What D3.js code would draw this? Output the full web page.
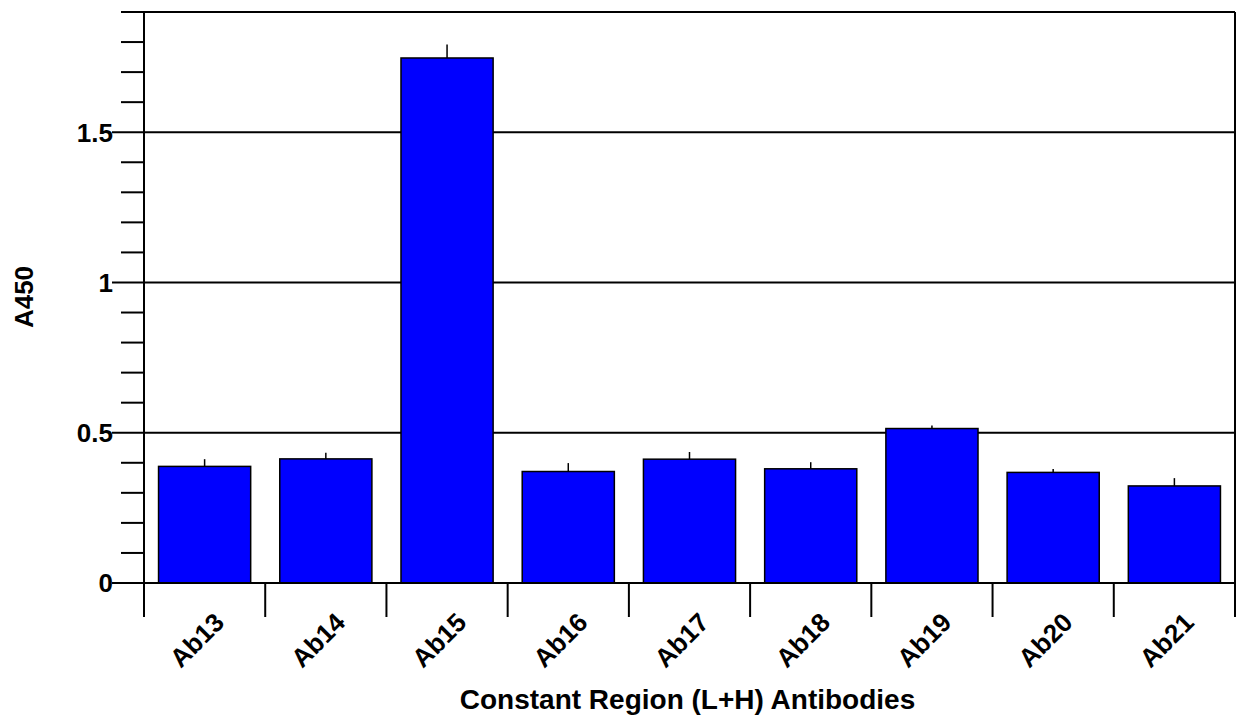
<!DOCTYPE html>
<html><head><meta charset="utf-8">
<script src="https://cdn.jsdelivr.net/npm/d3@7"></script>
<style>body{margin:0;background:#fff;} text{font-family:Arial,"Liberation Sans",sans-serif;font-weight:bold;}</style>
</head><body><svg id="c" width="1241" height="717"></svg>
<script>
const categories = ["Ab13","Ab14","Ab15","Ab16","Ab17","Ab18","Ab19","Ab20","Ab21"];
const values = [0.388,0.413,1.747,0.371,0.412,0.380,0.514,0.368,0.323];
const errors = [0.024,0.020,0.045,0.028,0.024,0.022,0.010,0.011,0.026];
const majorTicks = [0,0.5,1,1.5];
const minorTicks = [0.1,0.2,0.3,0.4,0.6,0.7,0.8,0.9,1.1,1.2,1.3,1.4,1.6,1.7,1.8,1.9];
const yMax = 1.9;
const xTitle = "Constant Region (L+H) Antibodies";
const yTitle = "A450";

(function(){
const svg = d3.select("#c");
const pL = 144, pR = 1235, pT = 12, pB = 583;
const x = d3.scaleBand().domain(categories).range([pL, pR]).paddingInner(0.24).paddingOuter(0.12);
const xb = d3.scaleBand().domain(categories).range([pL, pR]);
const y = d3.scaleLinear().domain([0, yMax]).range([pB, pT]);

svg.append("g").selectAll("line").data(majorTicks).join("line")
  .attr("x1", pL - 32).attr("x2", pR)
  .attr("y1", d => y(d)).attr("y2", d => y(d))
  .attr("stroke", "#000").attr("stroke-width", 2);
svg.append("g").selectAll("line").data(minorTicks).join("line")
  .attr("x1", pL - 23).attr("x2", pL)
  .attr("y1", d => y(d)).attr("y2", d => y(d))
  .attr("stroke", "#000").attr("stroke-width", 2);
svg.append("line").attr("x1", pL).attr("x2", pR).attr("y1", y(yMax)).attr("y2", y(yMax))
  .attr("stroke", "#000").attr("stroke-width", 2);
svg.append("line").attr("x1", pR).attr("x2", pR).attr("y1", y(yMax)).attr("y2", pB + 34)
  .attr("stroke", "#000").attr("stroke-width", 2);
svg.append("line").attr("x1", pL).attr("x2", pL).attr("y1", y(yMax)).attr("y2", pB + 34)
  .attr("stroke", "#000").attr("stroke-width", 2);
svg.append("g").selectAll("line").data(categories.slice(1)).join("line")
  .attr("x1", d => xb(d)).attr("x2", d => xb(d))
  .attr("y1", pB).attr("y2", pB + 34)
  .attr("stroke", "#000").attr("stroke-width", 2);

svg.append("g").selectAll("text").data(majorTicks).join("text")
  .attr("x", pL - 31).attr("y", d => y(d)).attr("dy", "0.36em")
  .attr("text-anchor", "end").attr("font-size", 26)
  .text(d => d3.format("")(d));

svg.append("g").selectAll("line").data(categories).join("line")
  .attr("x1", d => x(d) + x.bandwidth()/2).attr("x2", d => x(d) + x.bandwidth()/2)
  .attr("y1", (d,i) => y(values[i])).attr("y2", (d,i) => y(values[i] + errors[i]))
  .attr("stroke", "#000").attr("stroke-width", 1.5);

svg.append("g").selectAll("rect").data(categories).join("rect")
  .attr("x", d => x(d)).attr("width", x.bandwidth())
  .attr("y", (d,i) => y(values[i])).attr("height", (d,i) => pB - y(values[i]))
  .attr("fill", "#0000FF").attr("stroke", "#000").attr("stroke-width", 1.5);

svg.append("line").attr("x1", pL - 32).attr("x2", pR).attr("y1", pB).attr("y2", pB)
  .attr("stroke", "#000").attr("stroke-width", 2);

svg.append("g").selectAll("text").data(categories).join("text")
  .attr("transform", d => `translate(${xb(d) + xb.bandwidth()/2 + 21},${pB + 41}) rotate(-45)`)
  .attr("text-anchor", "end").attr("font-size", 26)
  .text(d => d);

svg.append("text").attr("x", (pL + pR) / 2 - 2).attr("y", 709).attr("text-anchor", "middle")
  .attr("font-size", 28).text(xTitle);
svg.append("text").attr("transform", "translate(33,297) rotate(-90)")
  .attr("text-anchor", "middle").attr("font-size", 26).text(yTitle);
})();
</script></body></html>
